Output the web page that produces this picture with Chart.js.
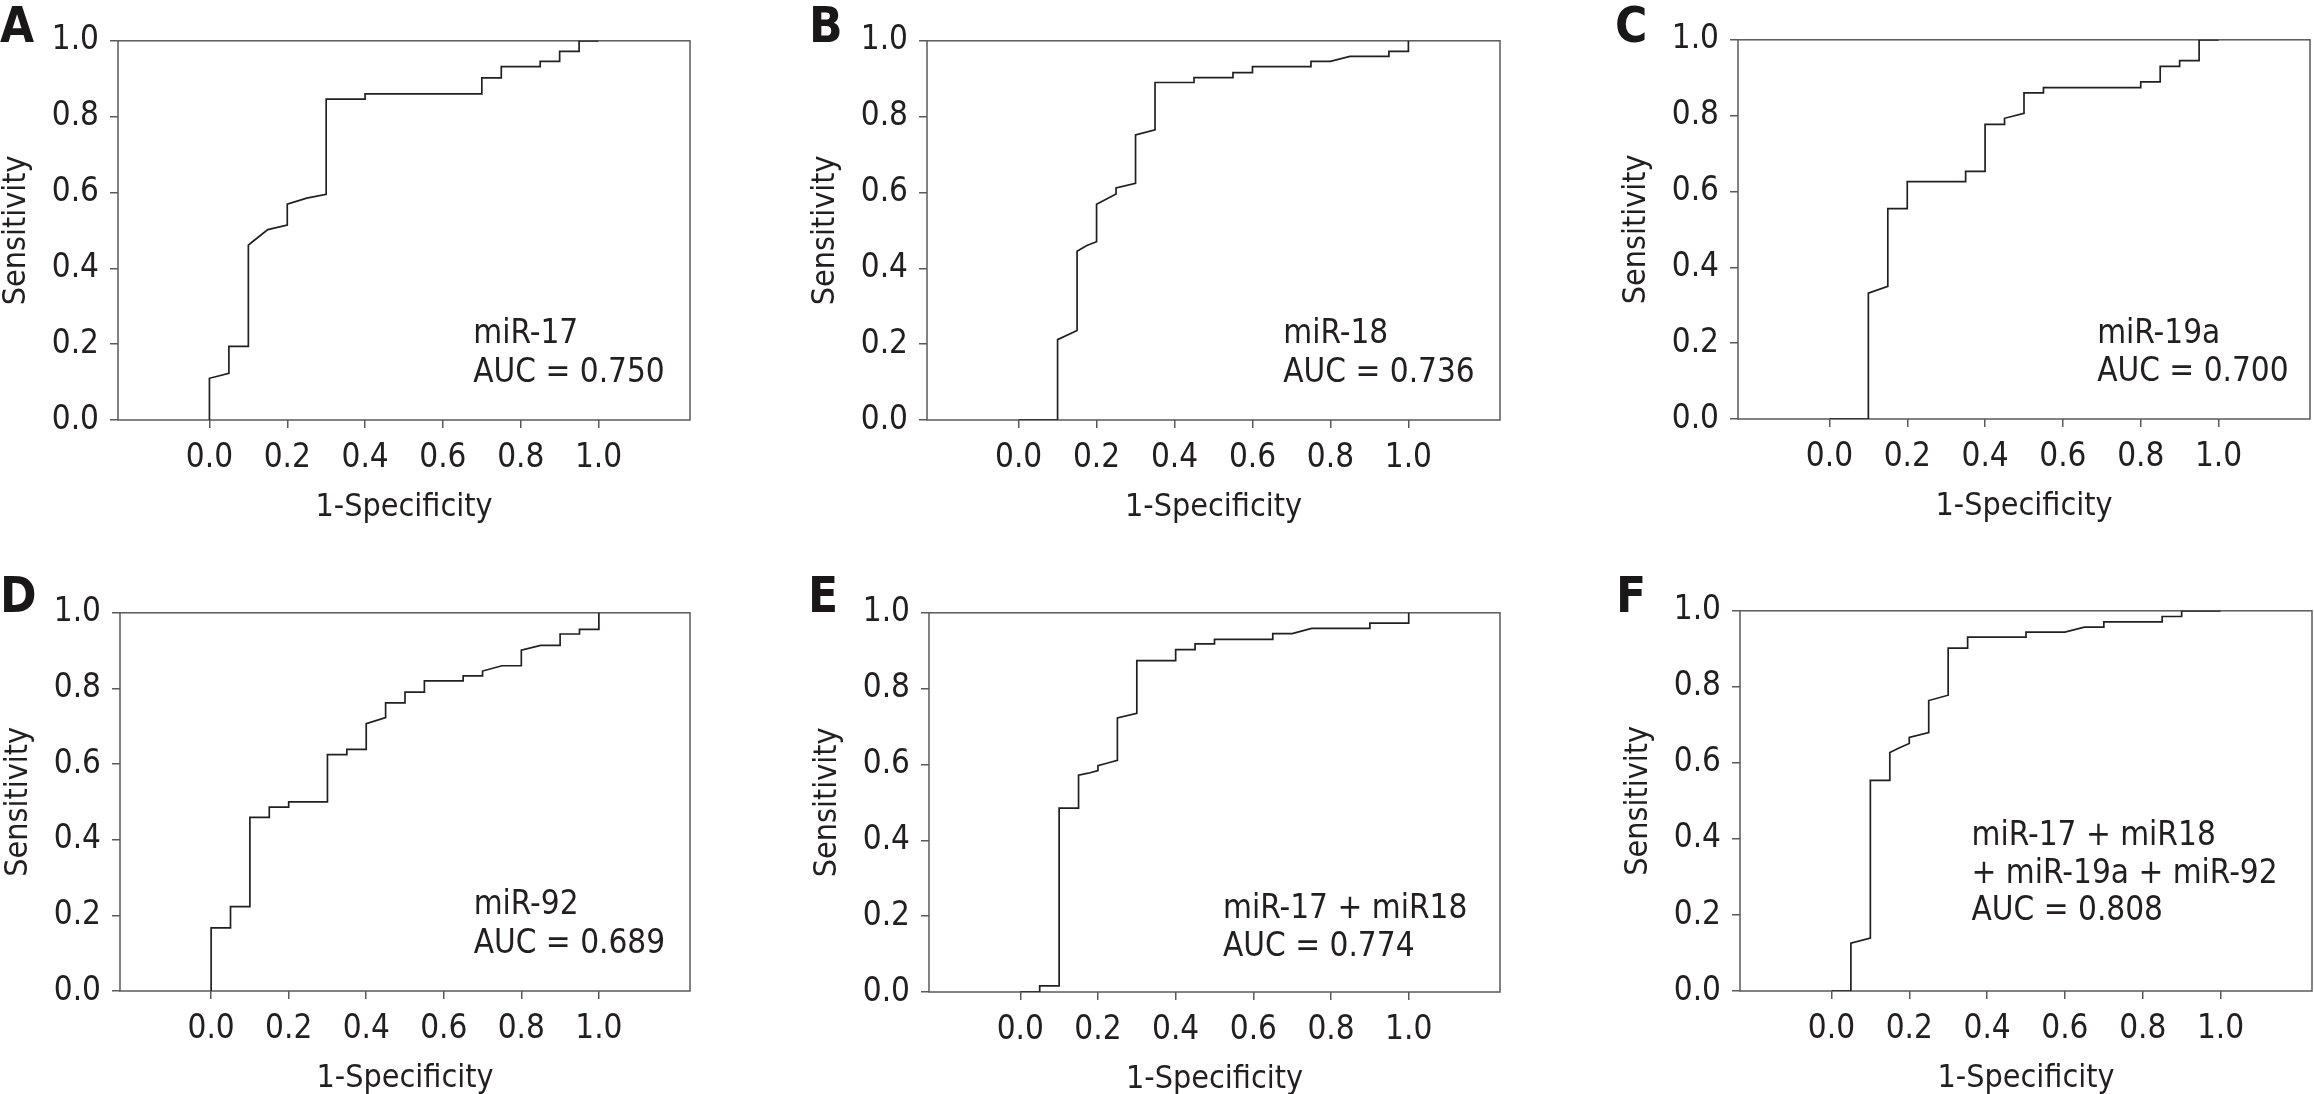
<!DOCTYPE html>
<html>
<head>
<meta charset="utf-8">
<script src="https://cdn.jsdelivr.net/npm/chart.js@4.4.1/dist/chart.umd.min.js"></script>
<style>
    body {
        margin: 0;
        width: 2314px;
        height: 1094px;
        overflow: hidden;
        background: #fff;
        position: relative;
    }
    .panel { position: absolute; }
    .letter {
        position: absolute;
        font-family: "DejaVu Sans Condensed", "DejaVu Sans", sans-serif;
        font-weight: bold;
        font-size: 49px;
        line-height: 49px;
        color: #1a1718;
    }
</style>
</head>
<body>
<script>
// 座標軸刻度
const xTicks = [0, 0.2, 0.4, 0.6, 0.8, 1.0];
const yTicks = [0, 0.2, 0.4, 0.6, 0.8, 1.0];

// A: miR-17
const aFpr = [0, 0, 0.05, 0.05, 0.10, 0.10, 0.113, 0.15, 0.20, 0.20, 0.25, 0.30, 0.30, 0.40, 0.40, 0.70, 0.70, 0.75, 0.75, 0.85, 0.85, 0.90, 0.90, 0.95, 0.95, 1.0];
const aTpr = [0, 0.11, 0.123, 0.194, 0.194, 0.461, 0.472, 0.502, 0.514, 0.569, 0.585, 0.595, 0.846, 0.846, 0.86, 0.86, 0.902, 0.902, 0.932, 0.932, 0.946, 0.946, 0.972, 0.972, 1.0, 1.0];

// B: miR-18
const bFpr = [0, 0.10, 0.10, 0.15, 0.15, 0.175, 0.20, 0.20, 0.25, 0.25, 0.30, 0.30, 0.35, 0.35, 0.45, 0.45, 0.55, 0.55, 0.60, 0.60, 0.75, 0.75, 0.80, 0.85, 0.95, 0.95, 1.0, 1.0];
const bTpr = [0, 0, 0.212, 0.236, 0.445, 0.46, 0.470, 0.569, 0.596, 0.612, 0.624, 0.752, 0.765, 0.890, 0.890, 0.903, 0.903, 0.916, 0.916, 0.932, 0.932, 0.946, 0.946, 0.959, 0.959, 0.972, 0.972, 1.0];

// C: miR-19a
const cFpr = [0, 0.10, 0.10, 0.15, 0.15, 0.20, 0.20, 0.35, 0.35, 0.40, 0.40, 0.45, 0.45, 0.50, 0.50, 0.55, 0.55, 0.80, 0.80, 0.85, 0.85, 0.90, 0.90, 0.95, 0.95, 1.0];
const cTpr = [0, 0, 0.332, 0.350, 0.555, 0.555, 0.626, 0.626, 0.653, 0.653, 0.777, 0.777, 0.793, 0.806, 0.860, 0.860, 0.874, 0.874, 0.889, 0.889, 0.930, 0.930, 0.945, 0.945, 1.0, 1.0];

// D: miR-92
const dFpr = [0, 0, 0.05, 0.05, 0.10, 0.10, 0.15, 0.15, 0.20, 0.20, 0.30, 0.30, 0.35, 0.35, 0.40, 0.40, 0.45, 0.45, 0.50, 0.50, 0.55, 0.55, 0.65, 0.65, 0.70, 0.70, 0.75, 0.80, 0.80, 0.85, 0.90, 0.90, 0.95, 0.95, 1.0, 1.0];
const dTpr = [0, 0.167, 0.167, 0.223, 0.223, 0.459, 0.459, 0.486, 0.486, 0.500, 0.500, 0.625, 0.625, 0.639, 0.639, 0.707, 0.723, 0.762, 0.762, 0.790, 0.790, 0.820, 0.820, 0.833, 0.833, 0.846, 0.860, 0.860, 0.901, 0.914, 0.914, 0.944, 0.944, 0.956, 0.956, 1.0];

// E: miR-17 + miR18
const eFpr = [0, 0.05, 0.05, 0.10, 0.10, 0.15, 0.15, 0.175, 0.20, 0.20, 0.225, 0.25, 0.25, 0.30, 0.30, 0.40, 0.40, 0.45, 0.45, 0.50, 0.50, 0.65, 0.65, 0.70, 0.75, 0.90, 0.90, 1.0, 1.0];
const eTpr = [0, 0, 0.016, 0.016, 0.485, 0.485, 0.572, 0.577, 0.584, 0.597, 0.604, 0.611, 0.723, 0.735, 0.874, 0.874, 0.903, 0.903, 0.918, 0.918, 0.930, 0.930, 0.945, 0.945, 0.959, 0.959, 0.973, 0.973, 1.0];

// F: 四個合併
const fFpr = [0, 0.05, 0.05, 0.10, 0.10, 0.15, 0.15, 0.175, 0.20, 0.20, 0.25, 0.25, 0.30, 0.30, 0.35, 0.35, 0.50, 0.50, 0.60, 0.65, 0.70, 0.70, 0.85, 0.85, 0.90, 0.90, 1.0];
const fTpr = [0, 0, 0.126, 0.139, 0.554, 0.554, 0.627, 0.640, 0.651, 0.667, 0.680, 0.764, 0.778, 0.902, 0.902, 0.931, 0.931, 0.944, 0.944, 0.957, 0.957, 0.971, 0.971, 0.985, 0.985, 1.0, 1.0];

const fprList = [aFpr, bFpr, cFpr, dFpr, eFpr, fFpr];
const tprList = [aTpr, bTpr, cTpr, dTpr, eTpr, fTpr];

const panelLetters = ['A', 'B', 'C', 'D', 'E', 'F'];
const panelLabels = [
    ['miR-17', 'AUC = 0.750'],
    ['miR-18', 'AUC = 0.736'],
    ['miR-19a', 'AUC = 0.700'],
    ['miR-92', 'AUC = 0.689'],
    ['miR-17 + miR18', 'AUC = 0.774'],
    ['miR-17 + miR18', '+ miR-19a + miR-92', 'AUC = 0.808']
];

// 版面位置（像素）
const plotBoxes = [
    { left: 118, top: 30, right: 690, bottom: 420 },
    { left: 927, top: 30, right: 1500, bottom: 420 },
    { left: 1738, top: 29, right: 2310, bottom: 419 },
    { left: 120, top: 602, right: 690, bottom: 991 },
    { left: 929, top: 602, right: 1500, bottom: 992 },
    { left: 1740, top: 600, right: 2312, bottom: 991 }
];
const letterPos = [
    { left: 0, top: 1 }, { left: 809, top: 1 }, { left: 1615, top: 1 },
    { left: 0, top: 571 }, { left: 808, top: 571 }, { left: 1616, top: 571 }
];
// 註解文字位置（資料座標，左下基線）
const labelPos = [
    { x: 0.678, y: [0.203, 0.101] },
    { x: 0.679, y: [0.203, 0.101] },
    { x: 0.688, y: [0.200, 0.099] },
    { x: 0.677, y: [0.203, 0.101] },
    { x: 0.522, y: [0.196, 0.096] },
    { x: 0.360, y: [0.383, 0.285, 0.186] }
];

const Y_AXIS_W = 121;
const X_AXIS_H = 107;
const PAD_TOP = 20;
const PAD_RIGHT = 10;
const INK = '#231f20';
const FRAME = '#5a5a5a';
const FONT = '"DejaVu Sans Condensed", "DejaVu Sans", sans-serif';

Chart.defaults.font.family = FONT;
Chart.defaults.color = INK;

// 外框
const framePlugin = {
    id: 'frame',
    beforeDatasetsDraw(chart) {
        const { ctx, chartArea: a } = chart;
        ctx.save();
        ctx.strokeStyle = FRAME;
        ctx.lineWidth = 1.5;
        ctx.strokeRect(a.left, a.top, a.right - a.left, a.bottom - a.top);
        ctx.restore();
    }
};

// 圖內註解
const labelPlugin = {
    id: 'auclabel',
    afterDatasetsDraw(chart, args, opts) {
        const { ctx, scales } = chart;
        ctx.save();
        ctx.fillStyle = INK;
        ctx.font = '33px ' + FONT;
        ctx.textAlign = 'left';
        ctx.textBaseline = 'alphabetic';
        opts.lines.forEach((t, k) => {
            ctx.fillText(t, scales.x.getPixelForValue(opts.x), scales.y.getPixelForValue(opts.y[k]));
        });
        ctx.restore();
    }
};

function makePanel(i) {
    const box = plotBoxes[i];
    const div = document.createElement('div');
    div.className = 'panel';
    div.style.left = (box.left - Y_AXIS_W) + 'px';
    div.style.top = (box.top - PAD_TOP) + 'px';
    div.style.width = (box.right - box.left + Y_AXIS_W + PAD_RIGHT) + 'px';
    div.style.height = (box.bottom - box.top + PAD_TOP + X_AXIS_H) + 'px';
    const canvas = document.createElement('canvas');
    div.appendChild(canvas);
    document.body.appendChild(div);

    const letter = document.createElement('div');
    letter.className = 'letter';
    letter.style.left = letterPos[i].left + 'px';
    letter.style.top = letterPos[i].top + 'px';
    letter.textContent = panelLetters[i];
    document.body.appendChild(letter);

    const points = fprList[i].map((x, k) => ({ x: x, y: tprList[i][k] }));

    new Chart(canvas, {
        type: 'scatter',
        data: {
            datasets: [{
                data: points,
                showLine: true,
                borderColor: INK,
                borderWidth: 1.7,
                pointRadius: 0,
                fill: false,
                tension: 0
            }]
        },
        plugins: [framePlugin, labelPlugin],
        options: {
            responsive: true,
            maintainAspectRatio: false,
            animation: false,
            events: [],
            layout: { padding: { left: 0, top: PAD_TOP, right: PAD_RIGHT, bottom: 0 } },
            plugins: {
                legend: { display: false },
                tooltip: { enabled: false },
                auclabel: { lines: panelLabels[i], x: labelPos[i].x, y: labelPos[i].y }
            },
            scales: {
                x: {
                    type: 'linear',
                    min: -0.235,
                    max: 1.235,
                    afterBuildTicks: s => { s.ticks = xTicks.map(v => ({ value: v })); },
                    afterFit: s => { s.height = X_AXIS_H; },
                    ticks: {
                        callback: v => Number(v).toFixed(1),
                        font: { size: 33 },
                        color: INK,
                        padding: 11,
                        autoSkip: false,
                        maxRotation: 0
                    },
                    grid: { drawOnChartArea: false, drawTicks: true, tickLength: 8, color: FRAME, lineWidth: 1.5 },
                    border: { display: false },
                    title: { display: true, text: '1-Specificity', font: { size: 32 }, color: INK, padding: 0 }
                },
                y: {
                    type: 'linear',
                    min: 0,
                    max: 1,
                    afterBuildTicks: s => { s.ticks = yTicks.map(v => ({ value: v })); },
                    afterFit: s => { s.width = Y_AXIS_W; },
                    ticks: {
                        callback: v => Number(v).toFixed(1),
                        font: { size: 33 },
                        color: INK,
                        padding: 11,
                        autoSkip: false
                    },
                    grid: { drawOnChartArea: false, drawTicks: true, tickLength: 8, color: FRAME, lineWidth: 1.5 },
                    border: { display: false },
                    title: { display: true, text: 'Sensitivity', font: { size: 32 }, color: INK, padding: 0 }
                }
            }
        }
    });
}

window.addEventListener('load', function() {
    for (let i = 0; i < 6; i++) makePanel(i);
});
</script>
</body>
</html>
